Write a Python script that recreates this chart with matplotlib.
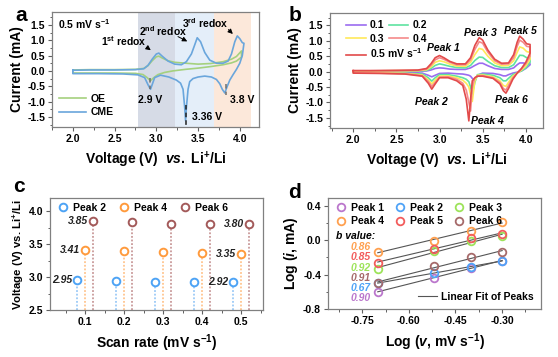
import numpy as np
import matplotlib
matplotlib.use("Agg")
import matplotlib.pyplot as plt
from matplotlib.ticker import MultipleLocator, FormatStrFormatter
from matplotlib.lines import Line2D

plt.rcParams['font.family'] = ['Liberation Sans', 'DejaVu Sans']
plt.rcParams['font.weight'] = 'bold'
plt.rcParams['axes.labelweight'] = 'bold'
plt.rcParams['mathtext.fontset'] = 'custom'
plt.rcParams['mathtext.rm'] = 'Liberation Sans:bold'
plt.rcParams['mathtext.bf'] = 'Liberation Sans:bold'
plt.rcParams['mathtext.it'] = 'Liberation Sans:italic:bold'

# ---------------- Panel a data ----------------
cme_fwd_v = [2.0, 2.2, 2.5, 2.75, 2.85, 2.9, 2.95, 3.0, 3.03, 3.07, 3.14, 3.22, 3.3, 3.36, 3.42, 3.46, 3.49,
             3.53, 3.58, 3.64, 3.72, 3.8, 3.86, 3.9, 3.94, 3.97, 4.0, 4.03, 4.05]
cme_fwd_i = [0.02, 0.03, 0.03, 0.04, 0.07, 0.18, 0.38, 0.55, 0.58, 0.48, 0.32, 0.22, 0.2, 0.3, 0.55, 0.85, 1.08,
             0.95, 0.6, 0.35, 0.25, 0.25, 0.32, 0.55, 0.95, 1.14, 1.05, 0.92, 0.9]
cme_rev_v = [4.05, 4.03, 4.0, 3.96, 3.92, 3.88, 3.85, 3.82, 3.79, 3.76, 3.72, 3.66, 3.58, 3.5, 3.44, 3.4, 3.38,
             3.36, 3.35, 3.34, 3.32, 3.29, 3.24, 3.15, 3.05, 2.98, 2.95, 2.93, 2.9, 2.86, 2.78, 2.6, 2.3, 2.0]
cme_rev_i = [0.9, 0.5, 0.25, 0.05, -0.12, -0.3, -0.5, -0.72, -0.6, -0.42, -0.28, -0.2, -0.17, -0.2, -0.25, -0.35,
             -0.6, -1.2, -1.62, -1.2, -0.6, -0.4, -0.3, -0.2, -0.14, -0.22, -0.45, -0.6, -0.45, -0.22, -0.13,
             -0.1, -0.09, -0.09]
oe_fwd_v = [2.0, 2.2, 2.5, 2.75, 2.85, 2.9, 2.95, 3.0, 3.03, 3.07, 3.14, 3.22, 3.35, 3.5, 3.65, 3.8, 3.9, 3.96, 4.02]
oe_fwd_i = [0.03, 0.04, 0.04, 0.05, 0.08, 0.17, 0.33, 0.46, 0.48, 0.42, 0.33, 0.28, 0.25, 0.22, 0.24, 0.3, 0.38,
            0.47, 0.65]
oe_rev_v = [4.02, 3.96, 3.9, 3.8, 3.65, 3.5, 3.35, 3.2, 3.1, 3.02, 2.97, 2.93, 2.89, 2.84, 2.75, 2.5, 2.2, 2.0]
oe_rev_i = [0.45, 0.32, 0.26, 0.2, 0.14, 0.09, 0.05, 0.0, -0.05, -0.12, -0.22, -0.32, -0.22, -0.12, -0.08,
            -0.07, -0.07, -0.07]

# ---------------- Panel b data ----------------
b_rates = ['0.1', '0.2', '0.3', '0.4', '0.5']
b_fwd_v = [2.0, 2.2, 2.5, 2.75, 2.85, 2.9, 2.95, 3.0, 3.05, 3.12, 3.2, 3.3, 3.36, 3.41, 3.46, 3.5, 3.56, 3.64,
           3.72, 3.8, 3.86, 3.9, 3.93, 3.97, 4.01, 4.05]
b_fwd_i = {
    '0.5': [0.03, 0.03, 0.04, 0.05, 0.1, 0.25, 0.45, 0.52, 0.45, 0.33, 0.25, 0.25, 0.45, 0.85, 1.1, 1.02, 0.7,
            0.4, 0.27, 0.28, 0.55, 0.95, 1.15, 1.05, 0.9, 0.88],
    '0.4': [0.03, 0.03, 0.03, 0.04, 0.08, 0.2, 0.38, 0.45, 0.4, 0.3, 0.22, 0.22, 0.38, 0.72, 0.97, 0.92, 0.63,
            0.35, 0.24, 0.25, 0.45, 0.82, 1.02, 0.95, 0.82, 0.8],
    '0.3': [0.02, 0.02, 0.03, 0.03, 0.06, 0.15, 0.3, 0.35, 0.32, 0.24, 0.18, 0.17, 0.3, 0.55, 0.75, 0.72, 0.5,
            0.28, 0.19, 0.2, 0.35, 0.62, 0.8, 0.76, 0.65, 0.62],
    '0.2': [0.02, 0.02, 0.02, 0.02, 0.04, 0.1, 0.2, 0.25, 0.22, 0.17, 0.13, 0.12, 0.2, 0.36, 0.47, 0.46, 0.33,
            0.19, 0.13, 0.13, 0.22, 0.4, 0.53, 0.52, 0.45, 0.42],
    '0.1': [0.01, 0.01, 0.01, 0.01, 0.02, 0.05, 0.1, 0.12, 0.11, 0.08, 0.07, 0.07, 0.12, 0.2, 0.27, 0.27, 0.19,
            0.1, 0.07, 0.07, 0.12, 0.22, 0.28, 0.28, 0.26, 0.25],
}
b_rev_v = [4.05, 4.0, 3.95, 3.9, 3.85, 3.8, 3.77, 3.74, 3.7, 3.62, 3.5, 3.44, 3.41, 3.38, 3.36, 3.34, 3.31, 3.27,
           3.2, 3.1, 3.0, 2.95, 2.91, 2.87, 2.8, 2.6, 2.3, 2.0]
b_rev_i = {
    '0.5': [0.6, 0.3, 0.1, -0.05, -0.25, -0.55, -0.7, -0.62, -0.4, -0.22, -0.15, -0.15, -0.2, -0.3, -0.9, -1.6,
            -0.9, -0.45, -0.3, -0.2, -0.2, -0.4, -0.57, -0.38, -0.15, -0.08, -0.06, -0.05],
    '0.4': [0.5, 0.25, 0.08, -0.05, -0.2, -0.45, -0.6, -0.55, -0.35, -0.2, -0.13, -0.14, -0.2, -0.5, -1.28, -1.0,
            -0.6, -0.38, -0.25, -0.17, -0.18, -0.35, -0.48, -0.32, -0.13, -0.07, -0.05, -0.04],
    '0.3': [0.4, 0.18, 0.05, -0.05, -0.15, -0.35, -0.48, -0.45, -0.3, -0.17, -0.11, -0.12, -0.3, -0.97, -0.75,
            -0.5, -0.38, -0.28, -0.2, -0.14, -0.15, -0.28, -0.4, -0.27, -0.11, -0.06, -0.04, -0.04],
    '0.2': [0.3, 0.12, 0.02, -0.04, -0.1, -0.22, -0.3, -0.3, -0.2, -0.12, -0.08, -0.1, -0.35, -0.72, -0.5, -0.33,
            -0.25, -0.2, -0.15, -0.1, -0.1, -0.2, -0.31, -0.2, -0.08, -0.05, -0.03, -0.03],
    '0.1': [0.22, 0.1, 0.02, -0.02, -0.05, -0.1, -0.14, -0.14, -0.1, -0.06, -0.05, -0.12, -0.3, -0.22, -0.15,
            -0.12, -0.1, -0.08, -0.07, -0.05, -0.06, -0.12, -0.17, -0.12, -0.05, -0.03, -0.02, -0.02],
}
b_colors = {'0.1': '#9b6cf0', '0.2': '#5fe3a1', '0.3': '#ffe95a', '0.4': '#f58a8a', '0.5': '#e24a4a'}

# ---------------- Panel c data ----------------
scan_rates = [0.1, 0.2, 0.3, 0.4, 0.5]
peak2_v = [2.95, 2.94, 2.93, 2.93, 2.92]
peak4_v = [3.41, 3.40, 3.38, 3.36, 3.35]
peak6_v = [3.85, 3.83, 3.81, 3.81, 3.80]

# ---------------- Panel d data ----------------
log_v = [-0.70, -0.52, -0.40, -0.30]
log_i = {
    'Peak 1': [-0.60, -0.44, -0.32, -0.24],
    'Peak 2': [-0.50, -0.38, -0.31, -0.24],
    'Peak 3': [-0.33, -0.13, -0.01, 0.05],
    'Peak 4': [-0.135, -0.01, 0.11, 0.21],
    'Peak 5': [-0.26, -0.10, 0.02, 0.07],
    'Peak 6': [-0.50, -0.30, -0.20, -0.14],
}
d_colors = {'Peak 1': '#bb77cc', 'Peak 2': '#4fa3f7', 'Peak 3': '#9de35a',
            'Peak 4': '#ffa04f', 'Peak 5': '#f25c5c', 'Peak 6': '#a66a6a'}
b_values = [('0.86', 'Peak 4'), ('0.85', 'Peak 5'), ('0.92', 'Peak 3'),
            ('0.91', 'Peak 6'), ('0.67', 'Peak 2'), ('0.90', 'Peak 1')]

W, H = 558, 357
fig = plt.figure(figsize=(W / 100, H / 100), dpi=100)


def add_ax(l, r, t, b):
    return fig.add_axes([l / W, 1 - b / H, (r - l) / W, (b - t) / H])


def style(ax):
    for s in ax.spines.values():
        s.set_color('#808080')
        s.set_linewidth(0.9)
    ax.tick_params(which='both', direction='out', color='#606060', labelsize=7.5, pad=2)
    ax.tick_params(which='major', length=3, width=0.8)
    ax.tick_params(which='minor', length=1.8, width=0.7)


FS_LAB = 10

# ================= Panel a =================
ax = add_ax(52, 259, 12, 127)
style(ax)
ax.axvspan(2.775, 3.225, color='#d6dbe6', lw=0)
ax.axvspan(3.225, 3.69, color='#e4eef9', lw=0)
ax.axvspan(3.69, 4.13, color='#fce8da', lw=0)
ax.plot(oe_fwd_v + oe_rev_v + [oe_fwd_v[0]], oe_fwd_i + oe_rev_i + [oe_fwd_i[0]], color='#a5d17e', lw=1.2,
        label='OE')
ax.plot(cme_fwd_v + cme_rev_v + [cme_fwd_v[0]], cme_fwd_i + cme_rev_i + [cme_fwd_i[0]], color='#6aa6dc', lw=1.2,
        label='CME')
ax.plot([2.93, 2.93], [-0.22, -0.6], ls=(0, (3, 2)), color='#707070', lw=1.1)
ax.plot([3.35, 3.35], [-1.12, -1.8], ls=(0, (3, 2)), color='#202020', lw=1.1)
ax.plot([3.83, 3.83], [-0.43, -0.8], ls=(0, (3, 2)), color='#707070', lw=1.1)
ax.set_xlim(1.75, 4.23)
ax.set_ylim(-1.83, 1.92)
ax.xaxis.set_major_locator(MultipleLocator(0.5))
ax.xaxis.set_minor_locator(MultipleLocator(0.25))
ax.yaxis.set_major_locator(MultipleLocator(0.5))
ax.yaxis.set_minor_locator(MultipleLocator(0.25))
ax.xaxis.set_major_formatter(FormatStrFormatter('%.1f'))
ax.yaxis.set_major_formatter(FormatStrFormatter('%.1f'))
ax.set_xlabel('Voltage (V)  $\\it{vs.}$ Li$^{+}$/Li', fontsize=FS_LAB, labelpad=4)
ax.set_ylabel('Current (mA)', fontsize=FS_LAB, labelpad=2)
tk = dict(fontsize=7.5, fontweight='bold')
ax.text(1.82, 1.52, '0.5 mV s$^{-1}$', va='center', ha='left', **tk)
ax.text(2.61, 0.98, '1$^{\\mathrm{st}}$ redox', va='center', ha='center', **tk)
ax.text(3.08, 1.30, '2$^{\\mathrm{nd}}$ redox', va='center', ha='center', **tk)
ax.text(3.59, 1.55, '3$^{\\mathrm{rd}}$ redox', va='center', ha='center', **tk)
arr = dict(arrowstyle='-|>', color='black', lw=0.7, mutation_scale=7)
ax.annotate('', xy=(2.96, 0.62), xytext=(2.86, 0.82), arrowprops=arr)
ax.annotate('', xy=(3.40, 0.92), xytext=(3.23, 1.16), arrowprops=arr)
ax.annotate('', xy=(3.94, 1.14), xytext=(3.84, 1.41), arrowprops=arr)
ax.text(2.92, -0.95, '2.9 V', va='center', ha='center', **tk)
ax.text(3.43, -1.52, '3.36 V', va='center', ha='left', **tk)
ax.text(3.88, -0.95, '3.8 V', va='center', ha='left', **tk)
ax.legend(loc='lower left', bbox_to_anchor=(0.0, 0.02), frameon=False, fontsize=7.5, handlelength=2.6,
          handletextpad=0.4, labelspacing=0.35, borderaxespad=0.3)

# ================= Panel b =================
ax = add_ax(330, 543, 13, 128)
style(ax)
handles = {}
for r in b_rates:
    xv = b_fwd_v + b_rev_v + [b_fwd_v[0]]
    yv = b_fwd_i[r] + b_rev_i[r] + [b_fwd_i[r][0]]
    lab = r if r != '0.5' else '0.5 mV s$^{-1}$'
    handles[r], = ax.plot(xv, yv, color=b_colors[r], lw=1.2, label=lab)
ax.set_xlim(1.73, 4.2)
ax.set_ylim(-1.83, 1.9)
ax.xaxis.set_major_locator(MultipleLocator(0.5))
ax.xaxis.set_minor_locator(MultipleLocator(0.25))
ax.yaxis.set_major_locator(MultipleLocator(0.5))
ax.yaxis.set_minor_locator(MultipleLocator(0.25))
ax.xaxis.set_major_formatter(FormatStrFormatter('%.1f'))
ax.yaxis.set_major_formatter(FormatStrFormatter('%.1f'))
ax.set_xlabel('Voltage (V)  $\\it{vs.}$ Li$^{+}$/Li', fontsize=FS_LAB, labelpad=4)
ax.set_ylabel('Current (mA)', fontsize=FS_LAB, labelpad=2)
order = ['0.1', '0.3', '0.2', '0.4']
legb1 = ax.legend([handles[o] for o in order], [handles[o].get_label() for o in order], ncol=2,
                  loc='upper left', bbox_to_anchor=(0.075, 0.935), frameon=False, fontsize=7.5,
                  handlelength=1.9, handletextpad=0.4, labelspacing=0.3, columnspacing=0.4,
                  borderaxespad=0.0, borderpad=0.0)
ax.add_artist(legb1)
ax.legend([handles['0.5']], [handles['0.5'].get_label()], loc='upper left', bbox_to_anchor=(0.075, 0.71),
          frameon=False, fontsize=7.5, handlelength=1.9, handletextpad=0.4, borderaxespad=0.0, borderpad=0.0)
it = dict(fontsize=7.5, fontweight='bold', fontstyle='italic', ha='center', va='center')
ax.text(3.04, 0.77, 'Peak 1', **it)
ax.text(3.47, 1.26, 'Peak 3', **it)
ax.text(3.94, 1.32, 'Peak 5', **it)
ax.text(2.90, -1.0, 'Peak 2', **it)
ax.text(3.56, -1.6, 'Peak 4', **it)
ax.text(3.83, -0.92, 'Peak 6', **it)

# ================= Panel c =================
ax = add_ax(50, 263, 198, 310)
style(ax)
c_series = [('Peak 2', peak2_v, -0.02, '#4da3f5', '#9ccaf7'),
            ('Peak 4', peak4_v, 0.0, '#ff9a3c', '#ffc58f'),
            ('Peak 6', peak6_v, 0.02, '#a35a5a', '#c99a9a')]
ymin_c = 2.5
for name, vals, off, col, lcol in c_series:
    xs = [s + off for s in scan_rates]
    ax.vlines(xs, ymin_c, vals, colors=lcol, linestyles=(0, (1, 1)), lw=1.3)
    ax.plot(xs, vals, 'o', mfc='white', mec=col, mew=1.4, ms=5.5, label=name, zorder=3)
ax.set_xlim(0.01, 0.556)
ax.set_ylim(ymin_c, 4.2)
ax.xaxis.set_major_locator(MultipleLocator(0.1))
ax.xaxis.set_minor_locator(MultipleLocator(0.05))
ax.yaxis.set_major_locator(MultipleLocator(0.5))
ax.yaxis.set_minor_locator(MultipleLocator(0.25))
ax.xaxis.set_major_formatter(FormatStrFormatter('%.1f'))
ax.yaxis.set_major_formatter(FormatStrFormatter('%.1f'))
ax.set_xlabel('Scan rate (mV s$^{-1}$)', fontsize=FS_LAB, labelpad=4)
ax.set_ylabel('Voltage (V) vs. Li$^{+}$/Li', fontsize=8.2, labelpad=2)
lb = dict(fontsize=7.5, fontweight='bold', fontstyle='italic', ha='right', va='center', color='#222222')
for name, vals, off, col, lcol in c_series:
    ax.text(scan_rates[0] + off - 0.013, vals[0], f'{vals[0]:.2f}', **lb)
    ax.text(scan_rates[-1] + off - 0.013, vals[-1], f'{vals[-1]:.2f}', **lb)
ax.legend(ncol=3, loc='upper left', bbox_to_anchor=(0.0, 1.02), frameon=False, fontsize=7.5, handlelength=1.0,
          handletextpad=0.5, columnspacing=1.2, borderaxespad=0.3)

# ================= Panel d =================
ax = add_ax(328, 541, 198, 309)
style(ax)
hd = {}
for name, vals in log_i.items():
    k, b0 = np.polyfit(log_v, vals, 1)
    xf = np.array([log_v[0], log_v[-1]])
    ax.plot(xf, k * xf + b0, color='#555555', lw=0.8, zorder=2)
    hd[name], = ax.plot(log_v, vals, 'o', mfc='none', mec=d_colors[name], mew=1.3, ms=5.5, label=name, zorder=3)
ax.set_xlim(-0.86, -0.175)
ax.set_ylim(-0.8, 0.49)
ax.xaxis.set_major_locator(MultipleLocator(0.15))
ax.xaxis.set_minor_locator(MultipleLocator(0.075))
ax.yaxis.set_major_locator(MultipleLocator(0.4))
ax.yaxis.set_minor_locator(MultipleLocator(0.2))
ax.xaxis.set_major_formatter(FormatStrFormatter('%.2f'))
ax.yaxis.set_major_formatter(FormatStrFormatter('%.1f'))
ax.set_xlabel('Log ($\\mathit{v}$, mV s$^{-1}$)', fontsize=FS_LAB, labelpad=4)
ax.set_ylabel('Log ($\\mathit{i}$, mA)', fontsize=FS_LAB, labelpad=2)
dorder = ['Peak 1', 'Peak 4', 'Peak 2', 'Peak 5', 'Peak 3', 'Peak 6']
leg1 = ax.legend([hd[o] for o in dorder], dorder, ncol=3, loc='upper left', bbox_to_anchor=(0.0, 1.02),
                 frameon=False, fontsize=7.5, handlelength=1.0, handletextpad=0.5, columnspacing=1.0,
                 labelspacing=0.3, borderaxespad=0.3)
ax.add_artist(leg1)
fit_h = Line2D([], [], color='#555555', lw=0.8)
ax.legend([fit_h], ['Linear Fit of Peaks'], loc='lower right', frameon=False, fontsize=7.5, handlelength=1.8,
          handletextpad=0.4, borderaxespad=0.3)
ax.text(0.038, 0.658, 'b value:', transform=ax.transAxes, fontsize=7.5, fontweight='bold', fontstyle='italic',
        ha='left', va='center')
ys = [0.561, 0.466, 0.372, 0.282, 0.192, 0.102]
for (val, pk), yy in zip(b_values, ys):
    ax.text(0.155, yy, val, transform=ax.transAxes, fontsize=7.5, fontweight='bold', fontstyle='italic',
            ha='center', va='center', color=d_colors[pk])

# panel letters
fig.text(15 / W, 1 - 6 / H, 'a', fontsize=15, fontweight='bold', va='top', ha='left')
fig.text(289 / W, 1 - 6 / H, 'b', fontsize=15, fontweight='bold', va='top', ha='left')
fig.text(13 / W, 1 - 177 / H, 'c', fontsize=15, fontweight='bold', va='top', ha='left')
fig.text(288 / W, 1 - 183 / H, 'd', fontsize=15, fontweight='bold', va='top', ha='left')

fig.savefig('out.png', dpi=100)
